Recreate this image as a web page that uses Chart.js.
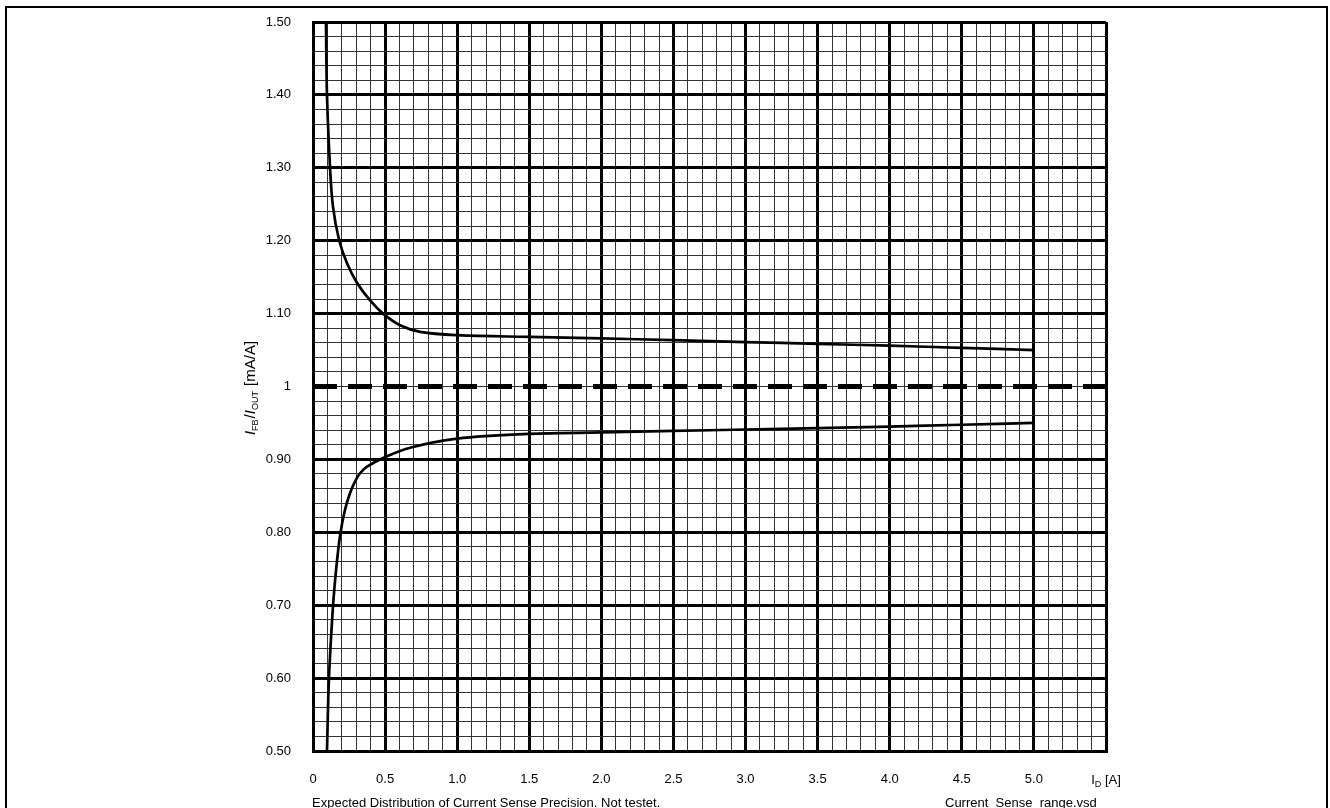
<!DOCTYPE html>
<html>
<head>
<meta charset="utf-8">
<script src="https://cdn.jsdelivr.net/npm/chart.js@4/dist/chart.umd.min.js"></script>
<style>
  html, body { margin: 0; padding: 0; background: #fff; }
  #wrap { width: 1330px; height: 808px; position: relative; }
</style>
</head>
<body>
<div id="wrap"><canvas id="c" width="1330" height="808"></canvas></div>
<script>
// ---- data ----
const upperX = [0.09, 0.097, 0.118, 0.139, 0.181, 0.236, 0.306, 0.396, 0.486, 0.604, 0.743, 1.0, 1.5, 2.0, 2.5, 3.0, 3.5, 4.0, 4.5, 5.0];
const upperY = [1.50, 1.40, 1.301, 1.246, 1.201, 1.169, 1.142, 1.118, 1.100, 1.084, 1.075, 1.0705, 1.068, 1.066, 1.0635, 1.061, 1.0585, 1.056, 1.053, 1.050];
const lowerX = [0.097, 0.111, 0.139, 0.160, 0.188, 0.222, 0.257, 0.292, 0.326, 0.375, 0.486, 0.674, 1.0, 1.5, 2.0, 2.5, 3.0, 3.5, 4.0, 4.5, 5.0];
const lowerY = [0.50, 0.601, 0.699, 0.748, 0.796, 0.831, 0.854, 0.870, 0.881, 0.890, 0.902, 0.916, 0.9285, 0.935, 0.937, 0.939, 0.941, 0.943, 0.945, 0.9475, 0.950];
const refX = [0, 5.5];
const refY = [1, 1];
const xTickLabels = ['0', '0.5', '1.0', '1.5', '2.0', '2.5', '3.0', '3.5', '4.0', '4.5', '5.0', ''];
const yTickLabels = ['0.50', '0.60', '0.70', '0.80', '0.90', '1', '1.10', '1.20', '1.30', '1.40', '1.50'];
const xAxisLabel = ['I', 'D', ' [A]'];
const yAxisLabel = ['I', 'FB', '/', 'I', 'OUT', ' [mA/A]'];
const footLeft = 'Expected Distribution of Current Sense Precision. Not testet.';
const footRight = 'Current  Sense  range.vsd';

const toPts = (xs, ys) => xs.map((x, i) => ({ x: x, y: ys[i] }));
const FONT = 'Liberation Sans, Arial, sans-serif';

const isMajorX = v => Math.round(v * 10) % 5 === 0;
const isMajorY = v => Math.round(v * 100) % 10 === 0 && Math.round(v * 100) !== 100;

const decorPlugin = {
  id: 'decor',
  afterDraw(chart) {
    const ctx = chart.ctx;
    ctx.save();
    // frame
    ctx.strokeStyle = '#000';
    ctx.lineWidth = 2;
    ctx.strokeRect(6, 7, 1321, 900);
    ctx.fillStyle = '#000';
    // y axis title (rotated, with subscripts)
    const big = '15px ' + FONT, itBig = 'italic 15px ' + FONT, sub = '9px ' + FONT;
    const styles = [itBig, sub, big, itBig, sub, big];
    const dys = [0, 3, 0, 0, 3, 0];
    const parts = yAxisLabel.map((t, i) => ({ t: t, f: styles[i], dy: dys[i] }));
    let w = 0;
    parts.forEach(p => { ctx.font = p.f; p.w = ctx.measureText(p.t).width + (p.f === sub ? 1 : 0); w += p.w; });
    ctx.translate(255, 388);
    ctx.rotate(-Math.PI / 2);
    ctx.textBaseline = 'alphabetic';
    ctx.textAlign = 'left';
    let px = -w / 2;
    parts.forEach(p => { ctx.font = p.f; ctx.fillText(p.t, px, p.dy); px += p.w; });
    ctx.setTransform(1, 0, 0, 1, 0, 0);
    // x axis label at the 5.5 tick position
    const xs = chart.scales.x;
    const xPos = xs.getPixelForValue(5.5);
    const lb = '13px ' + FONT, ls = '9px ' + FONT;
    ctx.font = lb;
    const wI = ctx.measureText(xAxisLabel[0]).width;
    ctx.font = ls;
    const wD = ctx.measureText(xAxisLabel[1]).width;
    ctx.font = lb;
    const wR = ctx.measureText(xAxisLabel[2]).width;
    let sx = xPos - (wI + wD + wR) / 2;
    const by = 784;
    ctx.fillText(xAxisLabel[0], sx, by); sx += wI;
    ctx.font = ls; ctx.fillText(xAxisLabel[1], sx, by + 3); sx += wD;
    ctx.font = lb; ctx.fillText(xAxisLabel[2], sx, by);
    // footers
    ctx.font = lb;
    ctx.textBaseline = 'top';
    ctx.fillText(footLeft, 312, 797);
    ctx.fillText(footRight, 945, 797);
    ctx.restore();
  }
};

new Chart(document.getElementById('c'), {
  type: 'scatter',
  data: {
    datasets: [
      { data: toPts(refX, refY), showLine: true, borderColor: '#000', borderWidth: 5, borderDash: [24, 11], pointRadius: 0, fill: false },
      { data: toPts(upperX, upperY), showLine: true, borderColor: '#000', borderWidth: 2.7, pointRadius: 0, tension: 0.35, fill: false },
      { data: toPts(lowerX, lowerY), showLine: true, borderColor: '#000', borderWidth: 2.7, pointRadius: 0, tension: 0.35, fill: false }
    ]
  },
  options: {
    responsive: false,
    animation: false,
    layout: { padding: { left: 250, top: 22, right: 224, bottom: 0 } },
    plugins: { legend: { display: false }, tooltip: { enabled: false } },
    scales: {
      x: {
        type: 'linear', min: 0, max: 5.5,
        afterFit: s => { s.height = 57; s.paddingLeft = 0; s.paddingRight = 0; },
        border: { display: true, color: '#000', width: 3 },
        grid: {
          drawTicks: false,
          color: c => (isMajorX(c.tick.value) ? '#000' : '#333'),
          lineWidth: c => (isMajorX(c.tick.value) ? 3 : 1)
        },
        ticks: {
          stepSize: 0.1, autoSkip: false, maxRotation: 0, padding: 21,
          color: '#000', font: { family: FONT, size: 13 },
          callback: v => (isMajorX(v) ? xTickLabels[Math.round(v * 2)] : '')
        }
      },
      y: {
        type: 'linear', min: 0.5, max: 1.5,
        afterFit: s => { s.width = 63; s.paddingTop = 0; s.paddingBottom = 0; },
        border: { display: true, color: '#000', width: 3 },
        grid: {
          drawTicks: false,
          color: c => (isMajorY(c.tick.value) ? '#000' : '#333'),
          lineWidth: c => (isMajorY(c.tick.value) ? 3 : 1)
        },
        ticks: {
          stepSize: 0.02, autoSkip: false, padding: 22,
          color: '#000', font: { family: FONT, size: 13 },
          callback: v => (Math.round(v * 100) % 10 === 0 ? yTickLabels[Math.round((v - 0.5) * 10)] : '')
        }
      }
    }
  },
  plugins: [decorPlugin]
});
</script>
</body>
</html>
